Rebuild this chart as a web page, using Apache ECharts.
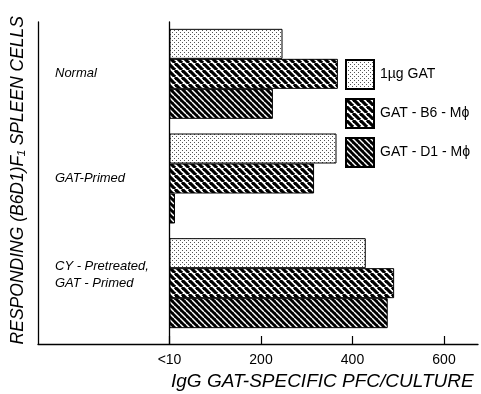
<!DOCTYPE html>
<html><head><meta charset="utf-8">
<script src="https://cdn.jsdelivr.net/npm/echarts@6/dist/echarts.min.js"></script>
<style>html,body{margin:0;padding:0;background:#fff}#c{width:481px;height:394px}</style>
</head><body><div id="c"></div>
<script>
// ---- data ----
const categories = ['Normal', 'GAT-Primed', 'CY - Pretreated,\nGAT - Primed'];
const seriesNames = ['1\u00B5g GAT', 'GAT - B6 - M\u03D5', 'GAT - D1 - M\u03D5'];
const gat1ug = [247, 365, 429];
const gatB6 = [368, 316, 491];
const gatD1 = [226, 12, 477];
const xTickValues = [0, 200, 400, 600];
const xTickLabels = ['<10', '200', '400', '600'];
const xTitle = 'IgG GAT-SPECIFIC PFC/CULTURE';
const yTitle = 'RESPONDING (B6D1)F\u2081 SPLEEN CELLS';

// ---- patterns ----
function dots() {
  const c = document.createElement('canvas'); c.width = 4; c.height = 4;
  const g = c.getContext('2d');
  g.fillStyle = '#fff'; g.fillRect(0, 0, 4, 4);
  g.fillStyle = '#555';
  g.fillRect(0, 0, 1, 1); g.fillRect(2, 2, 1, 1);
  return c;
}
function hatch(size, bg, fg, lw) {
  const c = document.createElement('canvas'); c.width = size; c.height = size;
  const g = c.getContext('2d');
  g.fillStyle = bg; g.fillRect(0, 0, size, size);
  g.strokeStyle = fg; g.lineWidth = lw;
  for (const o of [-size, 0, size]) {
    g.beginPath(); g.moveTo(o, 0); g.lineTo(o + size, size); g.stroke();
  }
  return c;
}
const fills = [
  { image: dots(), repeat: 'repeat' },
  { image: hatch(7, '#fff', '#000', 3.2), repeat: 'repeat' },
  { image: hatch(6, '#000', '#fff', 1.4), repeat: 'repeat' }
];
const values = [gat1ug, gatB6, gatD1];

const chart = echarts.init(document.getElementById('c'), null, { renderer: 'canvas' });
const ff = '"Liberation Sans", Arial, sans-serif';

chart.setOption({
  animation: false,
  backgroundColor: '#fff',
  grid: [
    { left: 169.5, top: 21.5, width: 274.5, height: 314, containLabel: false, outerBoundsMode: 'none' },
    { left: 38, top: 22, width: 440, height: 322, outerBoundsMode: 'none' },
    { left: 169.5, top: 22, width: 274.5, height: 322, outerBoundsMode: 'none' }
  ],
  xAxis: [
    { gridIndex: 0, type: 'value', min: 0, max: 600, show: false },
    { gridIndex: 1, type: 'value', min: 0, max: 1, axisLine: { show: true, lineStyle: { color: '#000', width: 1.3 } },
      axisTick: { show: false }, axisLabel: { show: false }, splitLine: { show: false } },
    { gridIndex: 2, type: 'value', min: 0, max: 600, interval: 200,
      axisLine: { show: false },
      axisTick: { show: true, inside: true, length: 8, lineStyle: { color: '#000', width: 1.2 } },
      axisLabel: { show: true, margin: 9, color: '#000', fontSize: 14, fontFamily: ff,
        formatter: v => { const i = xTickValues.indexOf(v); return i >= 0 ? xTickLabels[i] : ''; } },
      splitLine: { show: false } }
  ],
  yAxis: [
    { gridIndex: 0, type: 'category', data: categories, inverse: true,
      axisLine: { show: false }, axisTick: { show: false },
      axisLabel: { show: true, align: 'left', margin: 114.5, color: '#000', fontSize: 13,
        fontStyle: 'italic', fontFamily: ff, lineHeight: 17,
        formatter: v => v.indexOf('\n') >= 0 ? '{s|' + v.split('\n').join('}\n{s|') + '}\n{e|}' : v,
        rich: {
          s: { fontSize: 13, fontStyle: 'italic', fontFamily: ff, color: '#000', lineHeight: 17 },
          e: { fontSize: 13, lineHeight: 16 }
        } },
      splitLine: { show: false } },
    { gridIndex: 1, type: 'value', min: 0, max: 1,
      axisLine: { show: true, lineStyle: { color: '#000', width: 1.3 } },
      axisTick: { show: false }, axisLabel: { show: false }, splitLine: { show: false } },
    { gridIndex: 2, type: 'value', min: 0, max: 1,
      axisLine: { show: true, lineStyle: { color: '#000', width: 1.3 } },
      axisTick: { show: false }, axisLabel: { show: false }, splitLine: { show: false } }
  ],
  legend: {
    orient: 'vertical', left: 345, top: 59, padding: 0,
    itemWidth: 28, itemHeight: 29, itemGap: 8, icon: 'rect',
    textStyle: { fontSize: 14, fontFamily: ff, color: '#000', padding: [0, 0, 0, 1] },
    data: seriesNames
  },
  graphic: [
    { type: 'text', left: 9, top: 16, rotation: Math.PI / 2,
      style: { text: yTitle, fontSize: 17.5, fontStyle: 'italic', fontFamily: ff, fill: '#000' } },
    { type: 'text', left: 171, top: 372,
      style: { text: xTitle, fontSize: 19, fontStyle: 'italic', fontFamily: ff, fill: '#000' } }
  ],
  series: seriesNames.map((n, i) => ({
    name: n, type: 'bar', xAxisIndex: 0, yAxisIndex: 0,
    data: values[i], barWidth: 30, barGap: '0%',
    itemStyle: { color: fills[i], borderColor: '#000', borderWidth: 1 }
  }))
});
</script>
</body></html>
